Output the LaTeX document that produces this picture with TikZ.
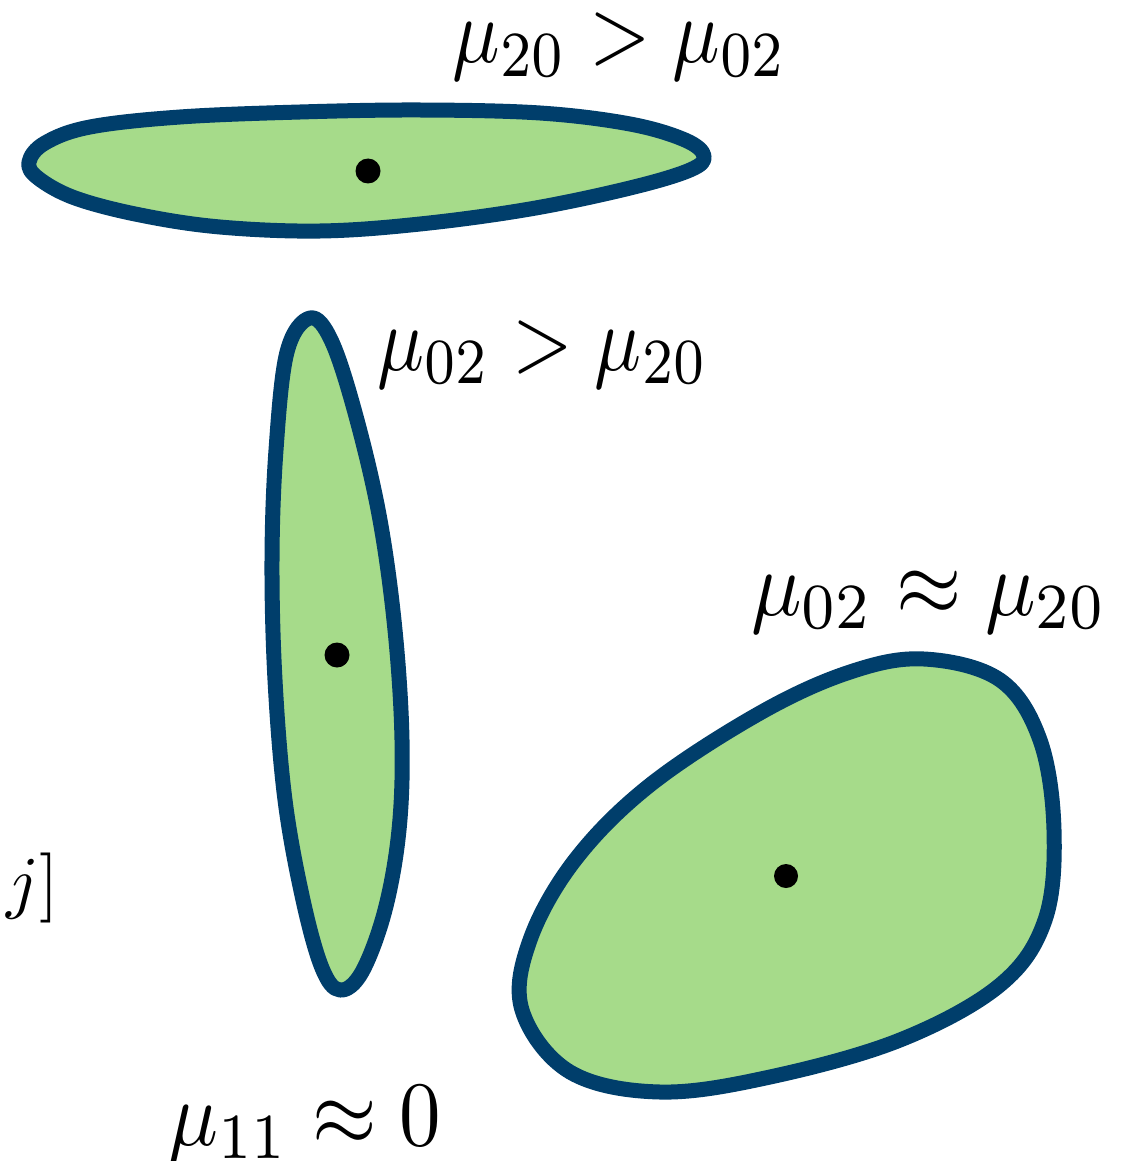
\documentclass[tikz,border=0pt]{standalone}
\definecolor{blobfill}{HTML}{A6DB8A}
\definecolor{blobline}{HTML}{003E6B}
\newcommand{\BigMath}[2]{\scalebox{#1}[9.2]{$#2$}}
\begin{document}
\begin{tikzpicture}[x=1pt,y=-1pt,
  blob/.style={draw=blobline,fill=blobfill,line width=15pt,line join=round},
  cdot/.style={fill=black},
  lab/.style={inner sep=0pt,anchor=base}]
\useasboundingbox (0,0) rectangle (1135,1161);
% top horizontal blob
\draw[blob] plot[smooth cycle,tension=0.6] coordinates {
 (29,162) (45,143) (90,127) (180,117) (300,112) (420,110) (540,113)
 (630,124) (685,140) (704,156) (690,170) (630,188) (530,209)
 (420,224) (320,231) (220,227) (140,215) (75,198) (38,178)};
\fill[cdot] (368,171) circle (12.5);
% vertical blob
\draw[blob] plot[smooth cycle,tension=0.6] coordinates {
 (310,318) (287,352) (276,450) (272,560) (275,680) (285,800) (303,900) (322,968)
 (340,990) (362,972) (385,910) (399,830) (402,740) (395,630) (380,520) (357,420)
 (332,342)};
\fill[cdot] (337,655) circle (12.5);
% lower right blob
\draw[blob] plot[smooth cycle,tension=0.6] coordinates {
 (924,659) (1000,680) (1040,740) (1054,830) (1045,920) (1000,985) (900,1040)
 (770,1077) (660,1092) (570,1072) (522,1010) (530,940) (575,860) (650,785)
 (760,713) (850,672)};
\fill[cdot] (786,876) circle (12);
% labels
\node[lab] (l1) at (620,63) {\BigMath{7.9}{\mu_{20}>\mu_{02}}};
\node[lab] (l2) at (543,370) {\BigMath{7.8}{\mu_{02}>\mu_{20}}};
\node[lab] (l3) at (929,615) {\BigMath{8.4}{\mu_{02}\approx\mu_{20}}};
\node[lab] (l4) at (305,1145) {\BigMath{8.3}{\mu_{11}\approx0}};
\node[inner sep=0pt,anchor=base west] (l5) at (6,905) {\scalebox{7}{$j]$}};
\end{tikzpicture}
\end{document}
